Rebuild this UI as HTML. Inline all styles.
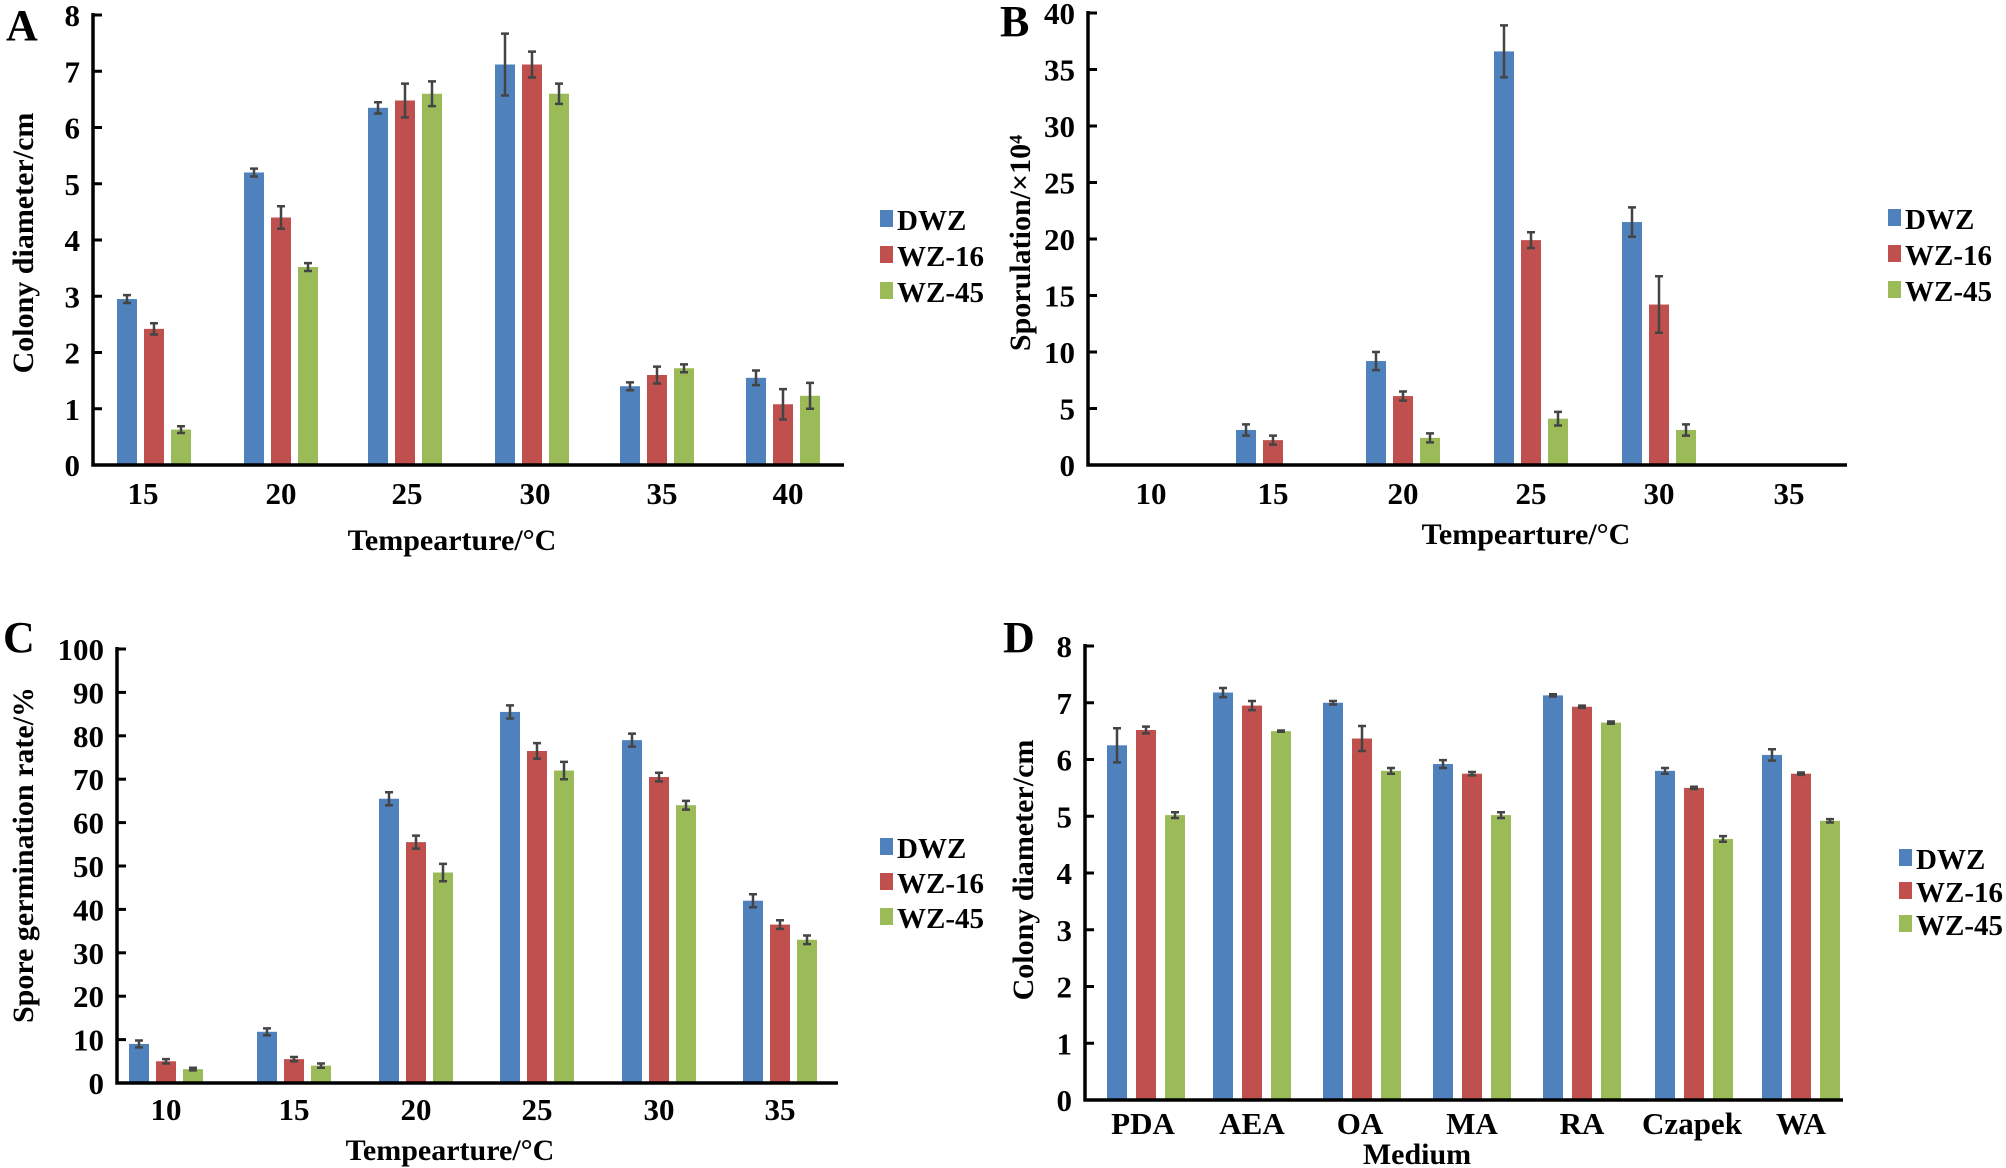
<!DOCTYPE html>
<html><head><meta charset="utf-8"><style>
html,body{margin:0;padding:0;background:#fff}
svg{display:block}
</style></head><body>
<svg id="s" width="2006" height="1168" xmlns="http://www.w3.org/2000/svg"></svg>
<script>
const S=document.getElementById('s');let h='';
const C=['#4f81bd','#c0504d','#9bbb59'];
function T(x,y,t,sz,anc,extra){h+=`<text x="${x}" y="${y}" font-size="${sz}" font-family="'Liberation Serif', serif" font-weight="bold" fill="#000" text-anchor="${anc||'middle'}" ${extra||''}>${t}</text>`;}
function panel(o){
 const {ax,y0,ytop,vmax,step,xend,cats,labs,vals,errs,bw,sp,letter,lx,ly,ytitle,ytx,yty,xt,xtx,xty,leg,labY}=o;
 const sc=(y0-ytop)/vmax;
 cats.forEach((c,i)=>{for(let k=0;k<3;k++){const v=vals[k][i];if(v<=0)continue;const cx=c+(k-1)*sp;const yt=y0-v*sc;
  h+=`<rect x="${cx-bw/2}" y="${yt}" width="${bw}" height="${y0-yt}" fill="${C[k]}"/>`;
  const e=errs[k][i];if(e>0){const a=yt-e*sc,b=yt+e*sc;h+=`<path d="M${cx} ${a}V${b}M${cx-4} ${a}H${cx+4}M${cx-4} ${b}H${cx+4}" stroke="#444" stroke-width="2.5" fill="none"/>`;}}});
 h+=`<path d="M${ax} ${ytop-2}V${y0}H${xend}" stroke="#000" stroke-width="3.5" fill="none"/>`;
 for(let v=0;v<=vmax+1e-9;v+=step){const y=y0-v*sc;h+=`<path d="M${ax} ${y}H${ax+9}" stroke="#000" stroke-width="3"/>`;T(ax-13,y+11,v,31,'end');}
 labs.forEach((l,i)=>T(l[0],labY,l[1],31));
 T(lx,ly,letter,44,'start');
 T(0,0,ytitle,30,'middle',`transform="translate(${ytx},${yty}) rotate(-90)"`);
 T(xtx,xty,xt,30);
 ['DWZ','WZ-16','WZ-45'].forEach((n,k)=>{const y=leg[1]+k*leg[2];h+=`<rect x="${leg[0]}" y="${y-9}" width="13" height="17" fill="${C[k]}"/>`;T(leg[0]+17,y+11,n,29,'start');});
}
panel({ax:93,y0:465,ytop:15,vmax:8,step:1,xend:844,bw:20,sp:27,
 cats:[154,281,405,532,657,783],labs:[[143,15],[281,20],[407,25],[535,30],[662,35],[788,40]],labY:504,
 vals:[[2.95,5.2,6.35,7.12,1.4,1.55],[2.42,4.4,6.48,7.12,1.6,1.08],[0.63,3.52,6.6,6.6,1.72,1.23]],
 errs:[[.07,.07,.1,.55,.07,.13],[.1,.2,.3,.23,.15,.27],[.06,.07,.22,.18,.07,.23]],
 letter:'A',lx:6,ly:40,ytitle:'Colony diameter/cm',ytx:33,yty:243,xt:'Tempearture/°C',xtx:452,xty:550,leg:[880,219,36]});
panel({ax:1088,y0:465,ytop:13,vmax:40,step:5,xend:1847,bw:20,sp:27,
 cats:[1151,1273,1403,1531,1659,1789],labs:[[1151,10],[1273,15],[1403,20],[1531,25],[1659,30],[1789,35]],labY:504,
 vals:[[0,3.1,9.2,36.6,21.5,0],[0,2.2,6.1,19.9,14.2,0],[0,0,2.4,4.1,3.1,0]],
 errs:[[0,.5,.8,2.3,1.3,0],[0,.4,.4,.7,2.5,0],[0,0,.4,.6,.5,0]],
 letter:'B',lx:1000,ly:36,ytitle:'Sporulation/×10⁴',ytx:1030,yty:243,xt:'Tempearture/°C',xtx:1526,xty:544,leg:[1888,218,36]});
panel({ax:117,y0:1083,ytop:649,vmax:100,step:10,xend:838,bw:20,sp:27,
 cats:[166,294,416,537,659,780],labs:[[166,10],[294,15],[416,20],[537,25],[659,30],[780,35]],labY:1120,
 vals:[[9,11.8,65.5,85.5,79,42],[5,5.5,55.5,76.5,70.5,36.5],[3.2,4,48.5,72,64,33]],
 errs:[[.8,.8,1.5,1.5,1.5,1.5],[.5,.5,1.5,1.8,1,1],[.3,.5,2,2,1,1]],
 letter:'C',lx:3,ly:652,ytitle:'Spore germination rate/%',ytx:33,yty:855,xt:'Tempearture/°C',xtx:450,xty:1160,leg:[880,847,35]});
panel({ax:1085,y0:1100,ytop:646,vmax:8,step:1,xend:1843,bw:20,sp:29,
 cats:[1146,1252,1362,1472,1582,1694,1801],labs:[[1143,'PDA'],[1252,'AEA'],[1360,'OA'],[1472,'MA'],[1582,'RA'],[1692,'Czapek'],[1801,'WA']],labY:1134,
 vals:[[6.25,7.18,7.0,5.92,7.13,5.8,6.08],[6.52,6.95,6.37,5.75,6.93,5.5,5.75],[5.02,6.5,5.8,5.02,6.65,4.6,4.92]],
 errs:[[.3,.08,.03,.07,.02,.05,.1],[.06,.08,.22,.03,.02,.02,.02],[.05,.01,.05,.05,.02,.05,.03]],
 letter:'D',lx:1003,ly:652,ytitle:'Colony diameter/cm',ytx:1033,yty:870,xt:'Medium',xtx:1417,xty:1164,leg:[1899,858,33]});
S.innerHTML=h;
</script>
</body></html>
